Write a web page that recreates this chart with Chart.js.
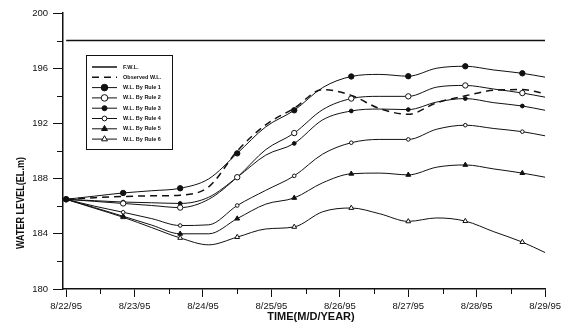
<!DOCTYPE html>
<html>
<head>
<meta charset="utf-8">
<title>Water level by rule</title>
<script src="https://cdn.jsdelivr.net/npm/chart.js@4/dist/chart.umd.min.js"></script>
<style>
    html, body { margin: 0; padding: 0; background: #fff; }
    #wrap { position: relative; width: 565px; height: 325px; }
</style>
</head>
<body>
<div id="wrap"><canvas id="levelChart"></canvas></div>
<script>
// Time in hours from 8/22/95 00:00
const hours = [0, 10, 20, 30, 40, 50, 60, 70, 80, 90, 100, 110, 120, 130, 140, 150, 160, 168];

// Water level (EL.m)
const observed = [186.5, 186.62, 186.7, 186.75, 186.8, 187.4, 190.0, 191.9, 193.1, 194.45, 194.03, 193.07, 192.66, 193.5, 194.0, 194.4, 194.45, 194.15];
const rule1 = [186.5, 186.73, 186.96, 187.12, 187.3, 187.98, 189.83, 191.75, 192.95, 194.6, 195.4, 195.55, 195.42, 196.0, 196.14, 195.87, 195.63, 195.35];
const rule2 = [186.5, 186.35, 186.2, 186.05, 185.9, 186.5, 188.1, 190.1, 191.3, 193.0, 193.8, 193.96, 193.96, 194.63, 194.75, 194.49, 194.2, 193.9];
const rule3 = [186.5, 186.4, 186.3, 186.25, 186.2, 186.65, 188.1, 189.7, 190.55, 192.26, 192.9, 193.04, 193.0, 193.55, 193.8, 193.5, 193.26, 192.95];
const rule4 = [186.5, 186.0, 185.56, 185.1, 184.6, 184.65, 186.05, 187.15, 188.2, 189.78, 190.6, 190.84, 190.84, 191.58, 191.87, 191.63, 191.4, 191.1];
const rule5 = [186.5, 185.9, 185.27, 184.63, 184.0, 184.0, 185.1, 186.15, 186.6, 187.7, 188.35, 188.4, 188.27, 188.83, 188.99, 188.7, 188.4, 188.1];
const rule6 = [186.5, 185.85, 185.2, 184.45, 183.7, 183.2, 183.76, 184.35, 184.5, 185.6, 185.87, 185.45, 184.9, 185.15, 184.92, 184.15, 183.4, 182.64];

const fwlHours = [0, 168];
const fwlLevel = [198, 198];

const seriesNames = ["F.W.L.", "Observed W.L.", "W.L. By Rule 1", "W.L. By Rule 2", "W.L. By Rule 3", "W.L. By Rule 4", "W.L. By Rule 5", "W.L. By Rule 6"];

// Axis ticks
const xTickHours = [0, 24, 48, 72, 96, 120, 144, 168];
const xTickLabels = ["8/22/95", "8/23/95", "8/24/95", "8/25/95", "8/26/95", "8/27/95", "8/28/95", "8/29/95"];
const xMinorHours = [12, 36, 60, 84, 108, 132, 156];
const yTicks = [180, 184, 188, 192, 196, 200];
const yMinor = [182, 186, 190, 194, 198];

const FONT = "'Liberation Sans', Arial, sans-serif";
const INK = '#111';

const toPoints = (xs, ys) => xs.map((x, i) => ({ x: x, y: ys[i] }));

// marker every 20 hours
const markerRadius = r => ctx => {
    const h = hours[ctx.dataIndex];
    return (h % 20 === 0 && h <= 160) ? r : 0;
};

function ruleSet(label, values, style, filled, r) {
    return {
        label: label,
        data: toPoints(hours, values),
        borderColor: INK,
        borderWidth: 1,
        cubicInterpolationMode: 'monotone',
        pointStyle: style,
        pointRadius: markerRadius(r),
        pointBorderWidth: 1,
        pointBorderColor: INK,
        pointBackgroundColor: filled ? INK : '#fff',
        legendRadius: r + 0.6
    };
}

// minor ticks, axis titles and the boxed legend
const extras = {
    id: 'extras',
    afterDraw(chart) {
        const ctx = chart.ctx;
        const area = chart.chartArea;
        const xs = chart.scales.x, ys = chart.scales.y;
        ctx.save();
        ctx.strokeStyle = INK;
        ctx.lineWidth = 1;
        yMinor.forEach(v => {
            const y = Math.round(ys.getPixelForValue(v)) + 0.5;
            ctx.beginPath(); ctx.moveTo(area.left - 6, y); ctx.lineTo(area.left, y); ctx.stroke();
        });
        xMinorHours.forEach(v => {
            const x = Math.round(xs.getPixelForValue(v)) + 0.5;
            ctx.beginPath(); ctx.moveTo(x, area.bottom); ctx.lineTo(x, area.bottom + 5); ctx.stroke();
        });

        // axis titles
        ctx.fillStyle = INK;
        ctx.textAlign = 'center';
        ctx.textBaseline = 'middle';
        ctx.font = 'bold 11px ' + FONT;
        ctx.fillText('TIME(M/D/YEAR)', 311, 316.5, 94);
        ctx.save();
        ctx.translate(21, 203);
        ctx.rotate(-Math.PI / 2);
        ctx.fillText('WATER LEVEL(EL.m)', 0, 0, 92);
        ctx.restore();

        // legend
        const bx = 86, by = 55, bw = 86, bh = 94;
        ctx.fillStyle = '#fff';
        ctx.fillRect(bx, by, bw, bh);
        ctx.strokeStyle = INK;
        ctx.lineWidth = 1;
        ctx.strokeRect(bx + 0.5, by + 0.5, bw, bh);
        chart.data.datasets.forEach((ds, i) => {
            const y = by + 12 + i * 10.3;
            ctx.save();
            ctx.strokeStyle = INK;
            ctx.lineWidth = ds.borderWidth;
            ctx.setLineDash(ds.borderDash || []);
            ctx.beginPath(); ctx.moveTo(bx + 6, y); ctx.lineTo(bx + 31, y); ctx.stroke();
            ctx.setLineDash([]);
            if (ds.legendRadius) {
                ctx.fillStyle = ds.pointBackgroundColor;
                ctx.strokeStyle = INK;
                ctx.lineWidth = 1;
                Chart.helpers.drawPoint(ctx, { pointStyle: ds.pointStyle, radius: ds.legendRadius, borderWidth: 1, rotation: 0 }, bx + 18.5, y);
            }
            ctx.fillStyle = INK;
            ctx.font = 'bold 5.5px ' + FONT;
            ctx.textAlign = 'left';
            ctx.textBaseline = 'middle';
            ctx.fillText(ds.label, bx + 37, y);
            ctx.restore();
        });
        ctx.restore();
    }
};

function initChart() {
    const ctx = document.getElementById('levelChart').getContext('2d');
    new Chart(ctx, {
        type: 'line',
        data: {
            datasets: [
                {
                    label: seriesNames[0],
                    data: toPoints(fwlHours, fwlLevel),
                    borderColor: INK,
                    borderWidth: 1.5,
                    pointRadius: 0
                },
                {
                    label: seriesNames[1],
                    data: toPoints(hours, observed),
                    borderColor: INK,
                    borderWidth: 1.5,
                    borderDash: [7, 5],
                    cubicInterpolationMode: 'monotone',
                    pointRadius: 0
                },
                ruleSet(seriesNames[2], rule1, 'circle', true, 2.7),
                ruleSet(seriesNames[3], rule2, 'circle', false, 2.7),
                ruleSet(seriesNames[4], rule3, 'circle', true, 1.9),
                ruleSet(seriesNames[5], rule4, 'circle', false, 1.8),
                ruleSet(seriesNames[6], rule5, 'triangle', true, 2.8),
                ruleSet(seriesNames[7], rule6, 'triangle', false, 2.8)
            ]
        },
        options: {
            responsive: true,
            maintainAspectRatio: false,
            animation: false,
            layout: { padding: { top: 13, right: 15, left: 0, bottom: 0 } },
            plugins: { legend: { display: false }, tooltip: { enabled: false } },
            scales: {
                x: {
                    type: 'linear',
                    min: -1.1,
                    max: 168,
                    afterBuildTicks: s => { s.ticks = xTickHours.map(v => ({ value: v })); },
                    afterFit: s => { s.height = 36; },
                    grid: { drawOnChartArea: false, drawTicks: true, tickLength: 8, tickColor: INK, tickWidth: 1 },
                    border: { display: true, color: INK, width: 1.5 },
                    ticks: {
                        padding: 4,
                        maxRotation: 0,
                        color: INK,
                        font: { family: FONT, size: 9.5 },
                        callback: v => xTickLabels[xTickHours.indexOf(v)]
                    }
                },
                y: {
                    min: 180,
                    max: 200,
                    afterBuildTicks: s => { s.ticks = yTicks.map(v => ({ value: v })); },
                    afterFit: s => { s.width = 63; },
                    grid: { drawOnChartArea: false, drawTicks: true, tickLength: 10, tickColor: INK, tickWidth: 1 },
                    border: { display: true, color: INK, width: 1.5 },
                    ticks: {
                        padding: 5,
                        color: INK,
                        font: { family: FONT, size: 9.5 }
                    }
                }
            }
        },
        plugins: [extras]
    });
}

document.addEventListener('DOMContentLoaded', initChart);
</script>
</body>
</html>
